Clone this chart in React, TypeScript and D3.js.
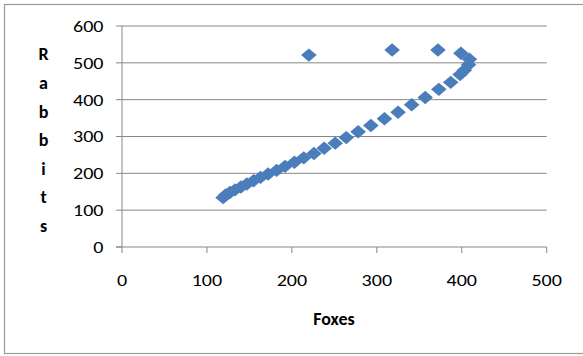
import React from "react";
import * as d3 from "d3";

const foxes = [220, 318, 372, 399, 409, 408, 403, 398, 387, 373, 357, 341, 325, 309, 293, 278, 264, 251, 238, 226, 214, 203, 192, 182, 172, 163, 155, 147, 140, 133, 127, 122, 119];
const rabbits = [521, 535, 535, 526, 510, 495, 480, 468, 447, 428, 406, 386, 366, 348, 330, 313, 297, 282, 268, 254, 242, 230, 219, 208, 198, 189, 180, 171, 163, 155, 148, 141, 134];
const xTicks = [0, 100, 200, 300, 400, 500];
const yTicks = [0, 100, 200, 300, 400, 500, 600];
const yTitle = "Rabbits";
const xTitle = "Foxes";

export default function App() {
  const W = 583, H = 356;
  const x = d3.scaleLinear().domain([0, 500]).range([122, 546.7]);
  const y = d3.scaleLinear().domain([0, 600]).range([247, 26]);
  const font = "Carlito, Calibri, 'Open Sans', 'Liberation Sans', sans-serif";
  const diamond = "M0,-6.7L7.8,0L0,6.7L-7.8,0Z";
  const sx = 1.18;
  return (
    <svg width={W} height={H} style={{ position: "absolute", left: 0, top: 0 }} fontFamily={font}>
      <rect x={0} y={0} width={W} height={H} fill="#fff" />
      <rect x={4.5} y={4.5} width={W + 10} height={349} fill="none" stroke="#9a9a9a" strokeWidth={1.2} />
      {yTicks.map((t) => (
        <g key={"y" + t}>
          <line x1={t === 0 ? 116 : 122} x2={546.7} y1={y(t)} y2={y(t)} stroke="#878787" strokeWidth={1} />
          <line x1={116} x2={122} y1={y(t)} y2={y(t)} stroke="#878787" />
          <text transform={`translate(${103.5},${y(t)}) scale(${sx},1)`} dy="0.35em" textAnchor="end" fontSize={17} fill="#000">{t}</text>
        </g>
      ))}
      <line x1={122} x2={122} y1={26} y2={247} stroke="#878787" />
      {xTicks.map((t) => (
        <g key={"x" + t}>
          <line x1={x(t)} x2={x(t)} y1={247} y2={253} stroke="#878787" />
          <text transform={`translate(${x(t)},${280.5}) scale(${sx},1)`} dy="0.35em" textAnchor="middle" fontSize={17} fill="#000">{t}</text>
        </g>
      ))}
      {foxes.map((f, i) => (
        <path key={i} d={diamond} transform={`translate(${x(f)},${y(rabbits[i])})`} fill="#4a7ebb" />
      ))}
      <text x={334} y={319} dy="0.35em" textAnchor="middle" fontSize={18} fontWeight="bold" fill="#000">{xTitle}</text>
      {yTitle.split("").map((c, i) => (
        <text key={i} x={43.5} y={54 + i * 28.6} dy="0.35em" textAnchor="middle" fontSize={18} fontWeight="bold" fill="#000">{c}</text>
      ))}
    </svg>
  );
}
